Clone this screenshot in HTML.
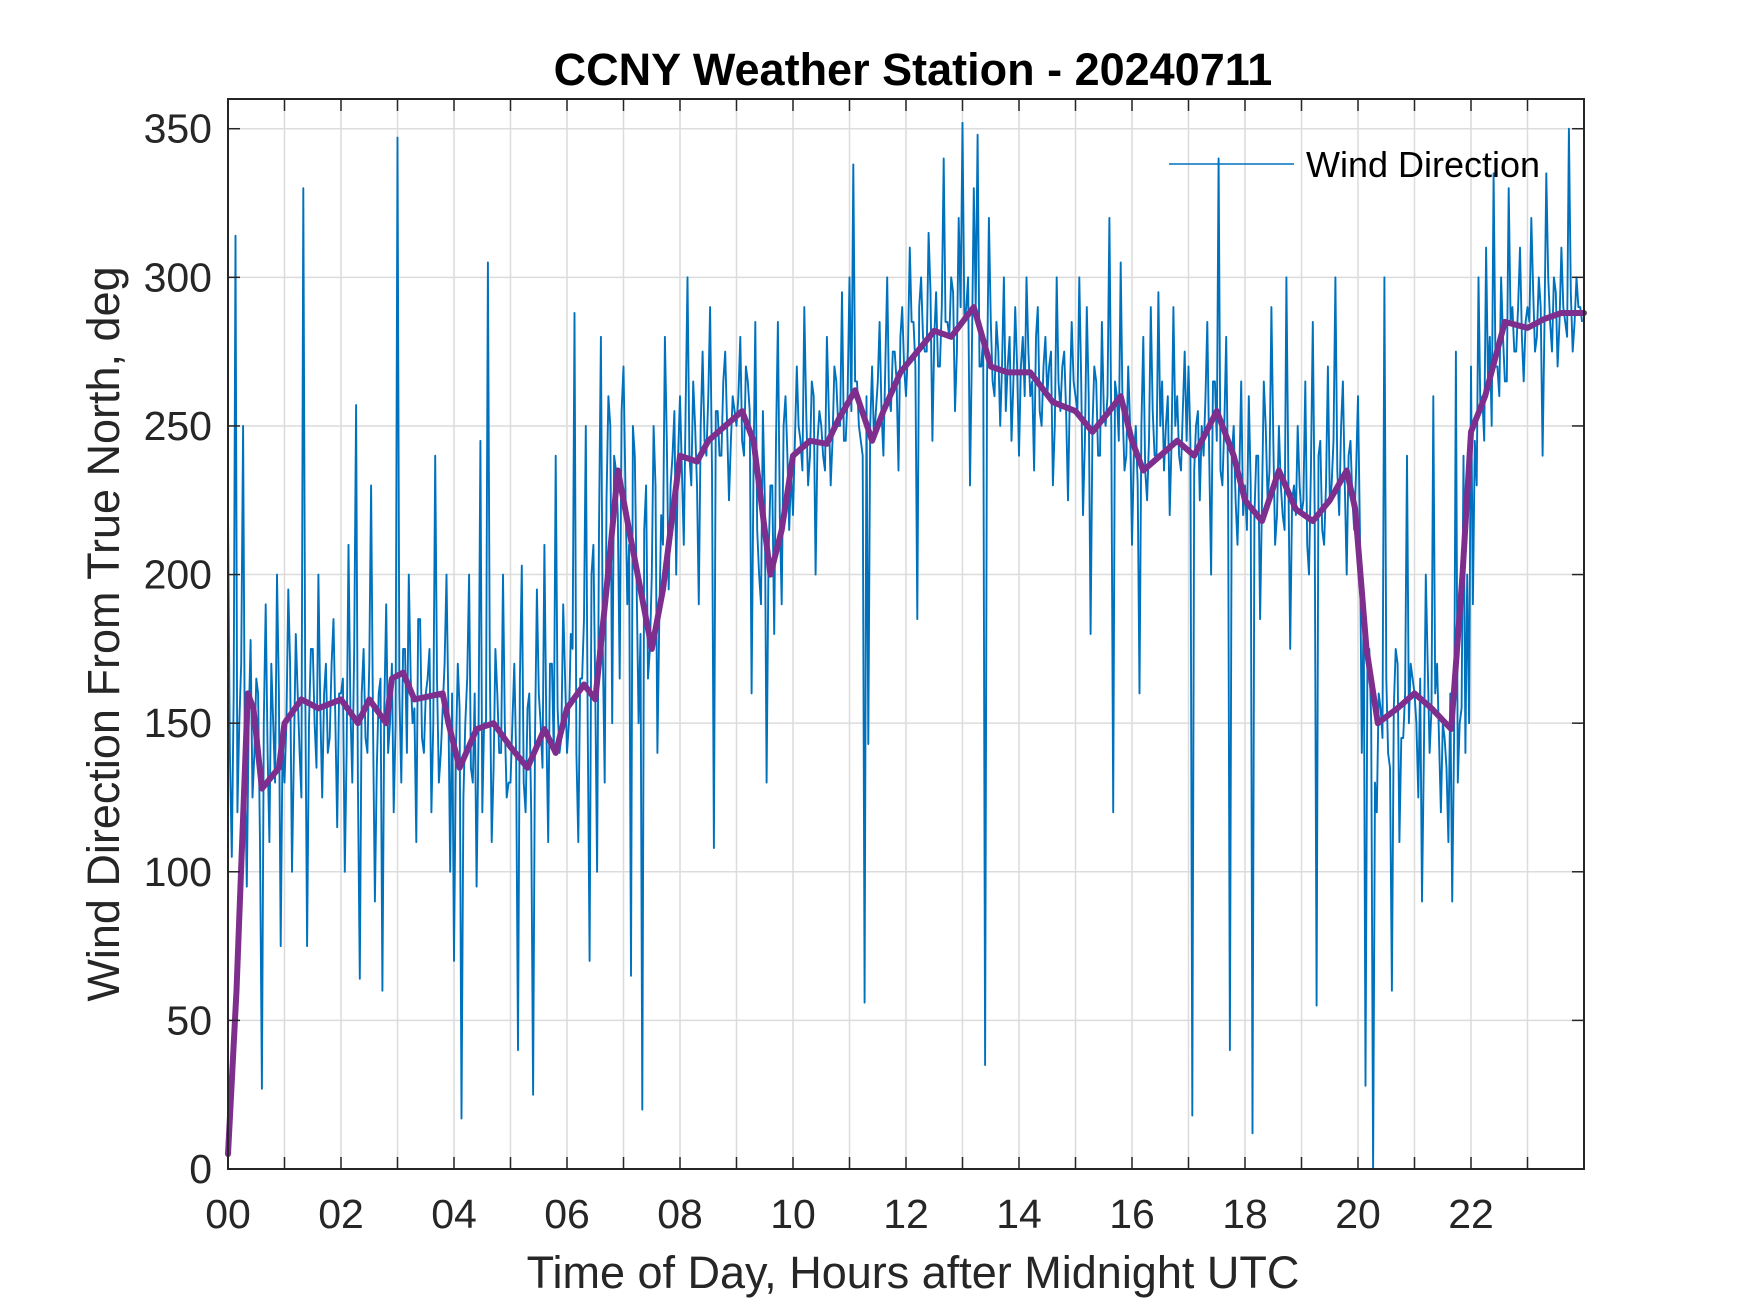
<!DOCTYPE html>
<html><head><meta charset="utf-8"><style>
html,body{margin:0;padding:0;background:#fff;}
svg{display:block;font-family:"Liberation Sans",Arial,sans-serif;}
</style></head><body>
<svg id="chart" width="1750" height="1313" viewBox="0 0 1750 1313" xmlns="http://www.w3.org/2000/svg">
<rect width="1750" height="1313" fill="#fff"/>
<g id="grid"></g>
<g id="series"></g>
<g id="axes"></g>
<text x="913" y="85" font-size="45" font-weight="bold" text-anchor="middle" fill="#000">CCNY Weather Station - 20240711</text>
<text x="913" y="1288" font-size="45" text-anchor="middle" fill="#262626">Time of Day, Hours after Midnight UTC</text>
<text transform="translate(119,634) rotate(-90)" font-size="45" text-anchor="middle" fill="#262626">Wind Direction From True North, deg</text>
<g>
<line x1="1169" y1="164" x2="1294" y2="164" stroke="#0072BD" stroke-width="1.6"/>
<text x="1306" y="177" font-size="36" fill="#000">Wind Direction</text>
</g>
</svg>
<script>
const xTicks = [0,2,4,6,8,10,12,14,16,18,20,22];
const xTickLabels = ["00","02","04","06","08","10","12","14","16","18","20","22"];
const yTicks = [0,50,100,150,200,250,300,350];
const windDir = [
220,105,314,150,250,95,178,140,160,27,190,110,150,200,75,
130,195,100,180,140,330,75,175,150,200,125,170,145,185,115,
160,100,210,130,257,64,175,140,230,90,160,60,190,150,120,
347,130,175,200,150,110,185,140,165,120,240,130,155,200,100,
70,170,17,150,200,130,95,245,150,305,110,175,140,200,125,
130,170,40,203,120,160,25,195,150,210,110,170,240,140,190,
140,180,288,110,165,250,70,210,100,280,130,260,150,235,165,
270,190,65,240,150,20,230,175,250,140,220,280,195,240,200,
260,210,300,230,250,190,275,240,290,108,255,240,275,225,260,
250,280,240,265,160,285,200,255,130,230,180,285,190,260,215,
220,270,245,290,230,265,200,255,240,280,230,270,250,295,245,
300,338,265,245,56,143,270,255,285,240,300,255,275,235,290,
260,310,285,185,300,275,315,245,295,270,340,285,300,255,320,
352,290,230,330,348,270,35,320,265,285,250,300,270,245,290,
240,280,300,260,235,290,250,280,270,230,300,255,275,225,285,
260,300,220,290,180,270,240,285,250,320,120,260,305,235,270,
210,250,160,280,225,290,240,295,265,250,220,290,260,235,275,
270,18,250,225,240,285,200,265,340,230,280,40,250,210,265,
230,260,12,240,185,265,225,290,210,250,220,300,175,230,250,
220,265,200,285,55,245,210,270,230,300,220,265,200,245,215,
260,140,28,175,0,120,155,300,140,60,175,110,145,240,170,
160,125,90,200,140,260,170,120,145,110,90,275,150,240,200,
270,245,300,260,310,280,335,270,300,265,330,290,275,310,265,
290,320,275,300,240,335,285,300,270,310,285,350,275,300,290
];
const windDirB = [
140,160,120,170,135,150,125,165,110,150,140,170,130,160,145,
150,170,140,160,125,165,150,175,135,155,160,140,170,150,160,
165,140,155,175,130,160,145,170,150,135,165,155,140,170,150,
160,175,140,165,155,185,145,160,175,150,165,140,170,155,160,
140,155,125,165,135,160,145,120,150,170,135,160,140,150,130,
150,140,165,130,155,120,145,160,135,150,170,140,155,145,165,
150,175,140,165,185,150,200,160,215,175,225,250,240,220,255,
230,210,250,195,180,215,165,200,230,185,210,245,230,255,240,
235,255,240,265,230,250,245,260,235,255,240,265,250,245,255,
260,245,270,255,235,215,190,225,205,230,245,220,250,240,235,
245,250,235,255,240,260,245,250,235,255,245,265,250,245,260,
255,265,250,240,260,250,245,265,255,270,260,275,265,280,270,
275,285,270,290,280,275,295,280,270,290,285,280,295,275,290,
285,300,275,290,270,280,265,285,260,275,270,255,280,265,270,
270,260,275,265,280,255,270,260,275,250,265,270,255,260,265,
255,265,245,260,250,265,240,255,260,250,265,245,255,240,250,
240,230,250,235,245,255,240,250,235,260,245,250,240,255,245,
245,235,255,250,260,240,265,245,235,250,230,240,225,235,220,
215,230,220,240,225,250,235,245,220,230,215,235,225,220,230,
225,210,235,220,240,215,230,225,245,235,250,230,240,225,235,
215,190,170,150,130,160,145,165,135,155,170,145,160,150,165,
150,165,140,170,155,160,145,150,135,160,145,130,155,140,150,
190,230,255,245,265,250,270,260,280,265,285,275,290,280,285,
285,295,280,290,285,300,275,295,285,290,280,295,285,290,285
];
const avgHours = [0,0.15,0.35,0.45,0.6,0.9,1.0,1.3,1.6,2.0,2.3,2.5,2.8,2.9,3.1,3.3,3.8,3.9,4.1,4.4,4.7,5.0,5.3,5.6,5.8,6.0,6.3,6.5,6.7,6.9,7.1,7.3,7.5,7.7,8.0,8.3,8.5,8.8,9.1,9.3,9.6,9.8,10.0,10.3,10.6,10.8,11.1,11.4,11.6,11.9,12.2,12.5,12.8,13.2,13.5,13.8,14.2,14.6,15.0,15.3,15.6,15.8,16.0,16.2,16.5,16.8,17.1,17.5,17.8,18.0,18.3,18.6,18.9,19.2,19.5,19.8,19.95,20.15,20.35,20.7,21.0,21.3,21.65,21.85,22.0,22.25,22.6,23.0,23.3,23.6,24.0];
const avgDir = [5,60,160,155,128,135,150,158,155,158,150,158,150,165,167,158,160,150,135,148,150,142,135,148,140,155,163,158,195,235,215,195,175,195,240,238,245,250,255,245,200,215,240,245,244,252,262,245,255,268,275,282,280,290,270,268,268,258,255,248,255,260,245,235,240,245,240,255,240,225,218,235,222,218,225,235,222,175,150,155,160,155,148,200,248,260,285,283,286,288,288];

const L=228,R=1584,T=99,B=1169;
const xMin=0,xMax=24,yMin=0,yMax=360;
function xs(h){return L+(h-xMin)/(xMax-xMin)*(R-L);}
function ys(v){return B-(v-yMin)/(yMax-yMin)*(B-T);}
const NS="http://www.w3.org/2000/svg";
function mk(tag,attrs,parent){const e=document.createElementNS(NS,tag);for(const k in attrs)e.setAttribute(k,attrs[k]);parent.appendChild(e);return e;}
const grid=document.getElementById('grid'),axes=document.getElementById('axes'),series=document.getElementById('series');
for(let h=1;h<24;h++){
  const g=mk('line',{x1:xs(h),x2:xs(h),y1:T,y2:B,stroke:'#dcdcdc','stroke-width':1.5},grid);
  
  
  const t1=mk('line',{x1:xs(h),x2:xs(h),y1:B,y2:B-12,stroke:'#262626','stroke-width':1.5},axes);
  
  
  const t2=mk('line',{x1:xs(h),x2:xs(h),y1:T,y2:T+12,stroke:'#262626','stroke-width':1.5},axes);
  
  
}
xTicks.forEach((h,i)=>{
  const t=mk('text',{x:xs(h),y:1228,'font-size':41,'text-anchor':'middle',fill:'#262626'},axes);
  t.textContent=xTickLabels[i];
  
  
});
yTicks.forEach(v=>{
  if(v>0){
    const g=mk('line',{x1:L,x2:R,y1:ys(v),y2:ys(v),stroke:'#dcdcdc','stroke-width':1.5},grid);
    
    
  }
  const a=mk('line',{x1:L,x2:L+12,y1:ys(v),y2:ys(v),stroke:'#262626','stroke-width':1.5},axes);
  
  
  const b=mk('line',{x1:R,x2:R-12,y1:ys(v),y2:ys(v),stroke:'#262626','stroke-width':1.5},axes);
  
  
  const t=mk('text',{x:212,y:ys(v)+14,'font-size':41,'text-anchor':'end',fill:'#262626'},axes);
  t.textContent=String(v);
  
  
});
const box=mk('rect',{x:L,y:T,width:R-L,height:B-T,fill:'none',stroke:'#262626','stroke-width':2},axes);


let d='';
windDir.forEach((v,i)=>{
  const h=i/15;
  d+=(i?'L':'M')+xs(h).toFixed(1)+' '+ys(v).toFixed(1);
  d+='L'+xs(h+1/30).toFixed(1)+' '+ys(windDirB[i]).toFixed(1);
});
const p1=mk('path',{d:d,fill:'none',stroke:'#0072BD','stroke-width':1.9,'stroke-linejoin':'round'},series);


let d2='';
avgHours.forEach((h,i)=>{d2+=(i?'L':'M')+xs(h).toFixed(1)+' '+ys(avgDir[i]).toFixed(1);});
const p2=mk('path',{d:d2,fill:'none',stroke:'#7E2F8E','stroke-width':6,'stroke-linejoin':'round','stroke-linecap':'round'},series);


</script>
</body></html>
